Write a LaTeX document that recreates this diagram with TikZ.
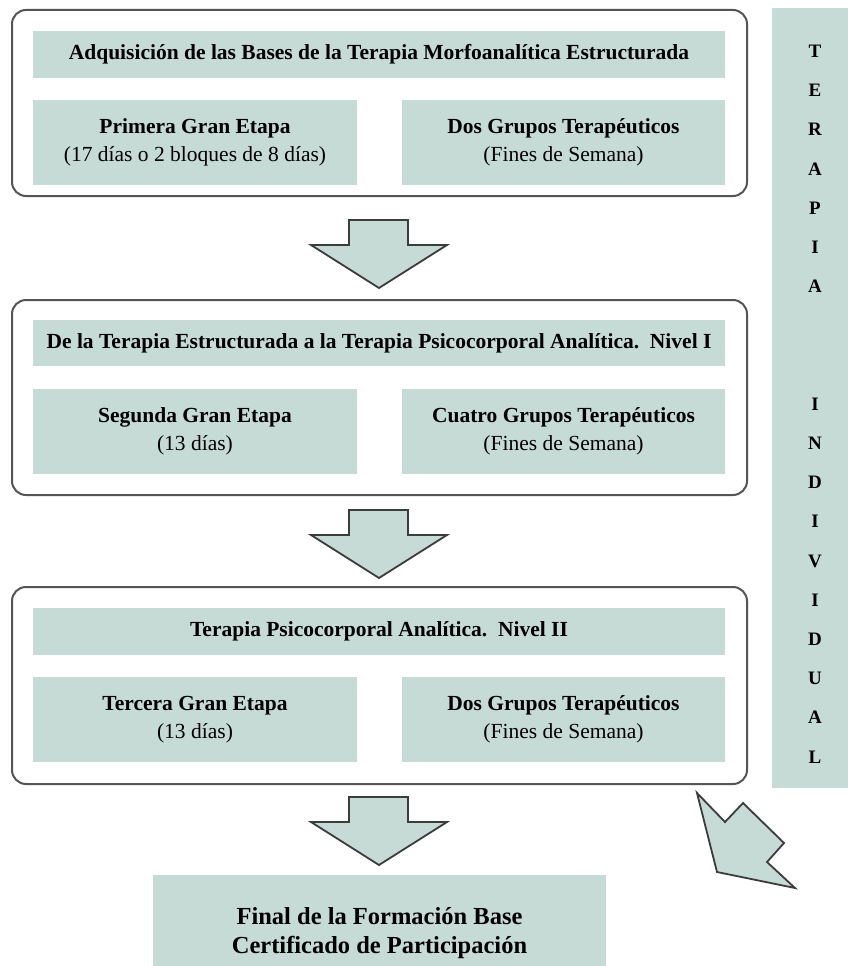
\documentclass[tikz,border=0pt]{standalone}
\usepackage{fontspec}
\setmainfont{Liberation Serif}
\definecolor{boxfill}{RGB}{198,218,214}
\definecolor{framecol}{RGB}{85,85,85}
\definecolor{arrowcol}{RGB}{60,60,60}
\tikzset{
  frame/.style={draw=framecol, line width=2pt, rounded corners=14pt, inner sep=0pt},
  fillbox/.style={fill=boxfill, inner sep=0pt, align=center, font=\bfseries\fontsize{21.5}{28}\selectfont},
  headbox/.style={fillbox, minimum width=692pt, minimum height=46pt},
  subbox/.style={fillbox, minimum width=324pt, minimum height=85pt},
  blockarrow/.style={draw=arrowcol, fill=boxfill, line width=1.8pt, line join=miter},
  downarrow/.pic={\draw[blockarrow] (-30,0) -- (29,0) -- (29,25) -- (68,25) -- (0,68) -- (-68,25) -- (-30,25) -- cycle;}
}
\newcommand{\sublabel}[1]{{\mdseries #1}}
\begin{document}
\begin{tikzpicture}[x=1pt,y=-1pt]
\useasboundingbox (0,0) rectangle (847,966);
\fill[white] (0,0) rectangle (847,966);

% right column
\node[fill=boxfill, inner sep=0pt, minimum width=80pt, minimum height=780pt, anchor=north west] (col) at (772,8) {};
\node[inner sep=0pt, align=center, font=\bfseries\fontsize{19}{39.2}\selectfont] (colt) at (815,404)
  {T\\E\\R\\A\\P\\I\\A\\\strut\\\strut\\I\\N\\D\\I\\V\\I\\D\\U\\A\\L};

% frame 1
\node[frame, minimum width=735pt, minimum height=186pt] (f1) at (379.5,103) {};
\node[headbox] (h1) at (379,54.5) {Adquisición de las Bases de la Terapia Morfoanalítica Estructurada};
\node[subbox] (s1a) at (195,142.5) {Primera Gran Etapa\\\sublabel{(17 días o 2 bloques de 8 días)}};
\node[subbox, minimum width=323pt] (s1b) at (563.5,142.5) {Dos Grupos Terapéuticos\\\sublabel{(Fines de Semana)}};

% frame 2
\node[frame, minimum width=735pt, minimum height=195pt] (f2) at (379.5,397.5) {};
\node[headbox] (h2) at (379,343) {De la Terapia Estructurada a la Terapia Psicocorporal Analítica.\ \ Nivel I};
\node[subbox] (s2a) at (195,431.5) {Segunda Gran Etapa\\\sublabel{(13 días)}};
\node[subbox, minimum width=323pt] (s2b) at (563.5,431.5) {Cuatro Grupos Terapéuticos\\\sublabel{(Fines de Semana)}};

% frame 3
\node[frame, minimum width=735pt, minimum height=197pt] (f3) at (379.5,685.5) {};
\node[headbox, minimum height=47pt] (h3) at (379,631.5) {Terapia Psicocorporal Analítica.\ \ Nivel II};
\node[subbox] (s3a) at (195,719.5) {Tercera Gran Etapa\\\sublabel{(13 días)}};
\node[subbox, minimum width=323pt] (s3b) at (563.5,719.5) {Dos Grupos Terapéuticos\\\sublabel{(Fines de Semana)}};

% final box
\node[fillbox, minimum width=453pt, minimum height=116pt, anchor=north, font=\bfseries\fontsize{24.5}{28.5}\selectfont] (fin) at (379.5,875)
  {Final de la Formación Base\\Certificado de Participación};

% block arrows
\pic at (379,220) {downarrow};
\pic at (379,510) {downarrow};
\pic at (379,797) {downarrow};

% diagonal arrow
\draw[blockarrow] (697,793) -- (725,822) -- (743,803) -- (784,843) -- (767,862) -- (795,888) -- (717,872) -- cycle;
\end{tikzpicture}
\end{document}
